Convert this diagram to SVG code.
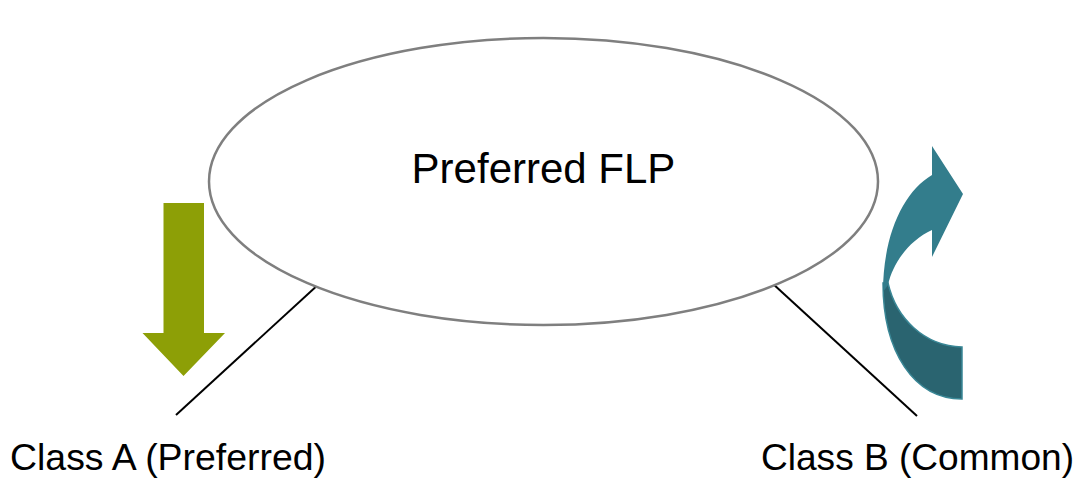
<svg xmlns="http://www.w3.org/2000/svg" width="1078" height="480" viewBox="0 0 1078 480">
  <style>
    .label { font-family: "Liberation Sans", Arial, sans-serif; fill: #000000; }
    .leader { stroke: #000000; stroke-width: 2; fill: none; }
  </style>
  <rect width="1078" height="480" fill="#ffffff"/>

  <g id="connectors">
    <line class="leader" x1="320" y1="283" x2="176" y2="415"/>
    <line class="leader" x1="772" y1="283" x2="917" y2="416"/>
  </g>

  <g id="preferred-flp">
    <ellipse cx="543.5" cy="181.5" rx="334.5" ry="143.5" fill="#ffffff" stroke="#7f7f7f" stroke-width="2.5"/>
    <text class="label" x="543.5" y="183" font-size="42" text-anchor="middle">Preferred FLP</text>
  </g>

  <g id="down-arrow">
    <polygon points="163.5,203 204,203 204,333 225,333 183.5,376 142.5,333 163.5,333" fill="#8d9f06"/>
  </g>

  <g id="curved-arrow">
    <!-- back (lower) part of the curved band -->
    <path d="M 883,283 L 888,283 C 896,318 924,346 962,347 L 962,399 C 914,399 883,352 883,283 Z" fill="#2a6470" stroke="#3a8796" stroke-width="1.5"/>
    <!-- front (upper) part with arrowhead -->
    <path d="M 883,292 C 883,236 903,192 932,175 L 932,146 L 963,194 L 932,257 L 932,230 C 910,240 893,262 888,285 L 883,292 Z" fill="#337d8c"/>
  </g>

  <g id="class-a">
    <text class="label" x="10" y="469.5" font-size="37" textLength="316" lengthAdjust="spacingAndGlyphs">Class A (Preferred)</text>
  </g>
  <g id="class-b">
    <text class="label" x="761" y="469.5" font-size="37" textLength="313" lengthAdjust="spacingAndGlyphs">Class B (Common)</text>
  </g>
</svg>
